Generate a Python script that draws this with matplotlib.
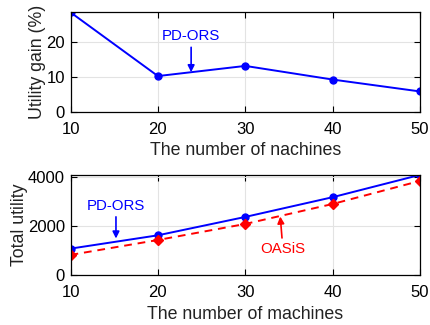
import matplotlib.pyplot as plt

plt.rcParams['font.family'] = ['Liberation Sans', 'DejaVu Sans']

machines = [10, 20, 30, 40, 50]
utility_gain = [28.5, 10.3, 13.2, 9.3, 5.9]
pdors_utility = [1080, 1620, 2365, 3165, 4070]
oasis_utility = [825, 1430, 2080, 2890, 3825]


def style_axes(ax, xlabel, ylabel):
    ax.set_xlim(10, 50)
    ax.set_xticks(machines)
    ax.grid(True, color='#e3e3e3', linewidth=0.8)
    ax.set_axisbelow(True)
    ax.tick_params(direction='in', top=True, right=True, labelsize=12, length=4)
    ax.tick_params(axis='x', pad=7)
    ax.tick_params(axis='y', pad=4)
    for spine in ax.spines.values():
        spine.set_linewidth(0.9)
    ax.set_xlabel(xlabel, fontsize=12.8, labelpad=4, color='#222222')
    ax.set_ylabel(ylabel, fontsize=12.8, labelpad=0, color='#222222')


def arrow(color):
    return dict(arrowstyle='-|>', color=color, lw=1.2, mutation_scale=10,
                shrinkA=1, shrinkB=0)


fig = plt.figure(figsize=(4.3, 3.25), dpi=100)

# top panel: gain of PD-ORS
ax1 = fig.add_axes([0.164, 0.655, 0.813, 0.307])
ax1.plot(machines, utility_gain, '-o', color='blue', linewidth=1.4, markersize=5)
ax1.set_ylim(0, 28.5)
ax1.set_yticks([0, 10, 20])
style_axes(ax1, 'The number of nachines', 'Utility gain (%)')
ax1.annotate('PD-ORS', xy=(23.8, 11.4), xytext=(23.8, 21.7), color='blue', fontsize=10.8,
             ha='center', va='center', arrowprops=arrow('blue'))

# bottom panel: total utility
ax2 = fig.add_axes([0.164, 0.153, 0.813, 0.309])
ax2.plot(machines, pdors_utility, '-o', color='blue', linewidth=1.4, markersize=5)
ax2.plot(machines, oasis_utility, '--D', color='red', linewidth=1.4, markersize=5,
         dashes=(4, 3))
ax2.set_ylim(0, 4070)
ax2.set_yticks([0, 2000, 4000])
style_axes(ax2, 'The number of machines', 'Total utility')
ax2.annotate('PD-ORS', xy=(15.2, 1490), xytext=(15.2, 2820), color='blue', fontsize=10.8,
             ha='center', va='center', arrowprops=arrow('blue'))
ax2.annotate('OASiS', xy=(34.0, 2380), xytext=(34.3, 1060), color='red', fontsize=10.8,
             ha='center', va='center', arrowprops=arrow('red'))

fig.savefig('out.png', dpi=100)
